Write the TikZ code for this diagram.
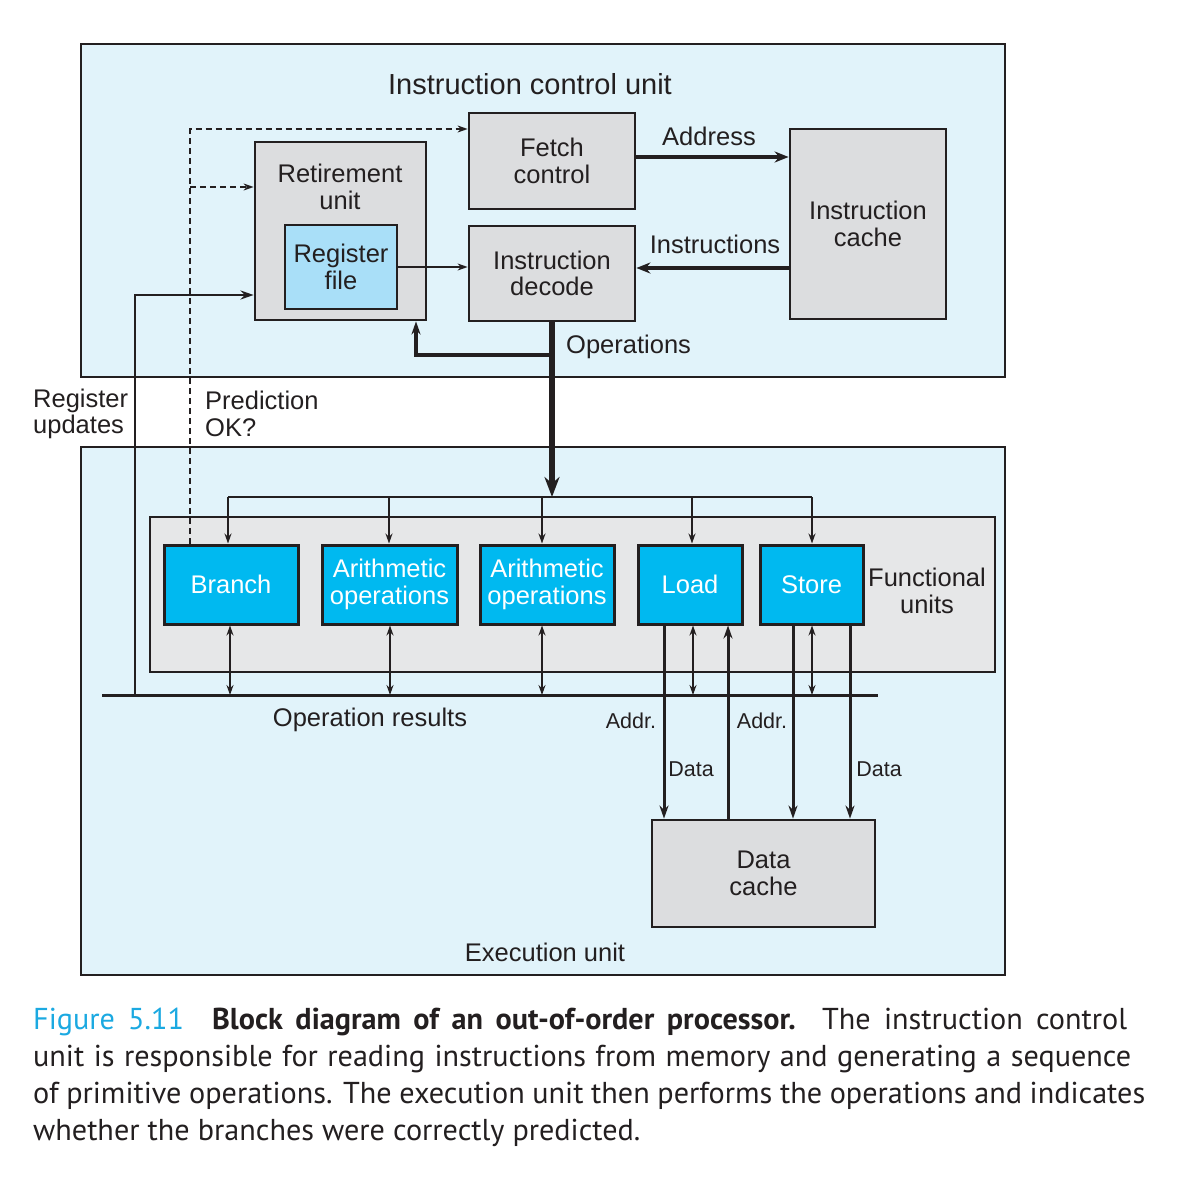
\documentclass[tikz,border=0pt]{standalone}
\usepackage{fontspec}
\setmainfont{Liberation Sans}
\newfontfamily\capfont{PT Sans}
\usetikzlibrary{arrows.meta}

\definecolor{panelblue}{HTML}{E1F3FA}
\definecolor{boxgray}{HTML}{DCDDDF}
\definecolor{fugray}{HTML}{E6E7E8}
\definecolor{regblue}{HTML}{A9DFF8}
\definecolor{unitcyan}{HTML}{00B9F0}
\definecolor{capcyan}{HTML}{1BA9E1}
\definecolor{ink}{HTML}{231F20}

\newcommand\lblsize{\fontsize{25.5}{26.5}\selectfont}
\newcommand\smallsize{\fontsize{21.5}{23}\selectfont}
\newcommand\titlesize{\fontsize{29}{30}\selectfont}
\newcommand\capline[2]{\makebox[#1pt][s]{#2}}

\tikzset{
  panel/.style={draw=ink, line width=2.8pt, fill=panelblue},
  fubox/.style={draw=ink, line width=2.8pt, fill=fugray},
  lbl/.style={font=\lblsize, text=ink, align=center, inner sep=0pt},
  smalllbl/.style={font=\smallsize, text=ink, inner sep=0pt},
  graybox/.style={draw=ink, line width=2.8pt, fill=boxgray, lbl},
  regbox/.style={draw=ink, line width=2.8pt, fill=regblue, lbl},
  unitbox/.style={draw=ink, line width=3pt, fill=unitcyan, lbl, text=white,
    minimum height=79pt},
  thinarrow/.style={draw=ink, line width=1.3pt, -{Stealth[length=10pt, width=7pt]}},
  dblarrow/.style={draw=ink, line width=1.3pt,
    {Stealth[length=10pt, width=7pt]}-{Stealth[length=10pt, width=7pt]}},
  bigarrow/.style={draw=ink, line width=3.5pt, -{Stealth[length=14pt, width=11pt]}},
  medarrow/.style={draw=ink, line width=2.6pt, -{Stealth[length=13pt, width=9pt]}},
  memarrow/.style={draw=ink, line width=3pt, -{Stealth[length=13pt, width=9pt]}},
  opsarrow/.style={draw=ink, line width=6pt, -{Stealth[length=20pt, width=15pt]}},
  predline/.style={draw=ink, line width=1.8pt, dash pattern=on 6pt off 4pt,
    -{Stealth[length=10pt, width=7pt]}},
  caption/.style={font=\capfont\fontsize{30.2}{37}\selectfont, text=ink,
    align=left, inner sep=0pt}
}

\begin{document}
\begin{tikzpicture}[x=1pt, y=-1pt]
\useasboundingbox (0,0) rectangle (1186,1188);

% the two units
\draw[panel] (81,44) rectangle (1005,377);
\draw[panel] (81,447) rectangle (1005,975);
\node[lbl, font=\titlesize] (icutitle) at (530,84) {Instruction control unit};
\node[lbl] (eutitle) at (545,952) {Execution unit};

% instruction control unit
\node[graybox, minimum width=171pt, minimum height=178pt] (retire) at (340.5,231) {};
\node[lbl] (retiretxt) at (340,187) {Retirement\\unit};
\node[regbox, minimum width=112pt, minimum height=84pt] (regfile) at (341,267) {Register\\file};
\node[graybox, minimum width=166pt, minimum height=96pt] (fetch) at (552,161) {Fetch\\control};
\node[graybox, minimum width=166pt, minimum height=95pt] (decode) at (552,273.5) {Instruction\\decode};
\node[graybox, minimum width=156pt, minimum height=190pt] (icache) at (868,224) {Instruction\\cache};

% functional units
\draw[fubox] (150,517) rectangle (995,672);
\node[lbl] (fulbl) at (927,591) {Functional\\units};
\node[unitbox, minimum width=134pt] (branch) at (231,584.5) {Branch};
\node[unitbox, minimum width=135pt] (aluA) at (389.5,584.5) {Arithmetic\\operations};
\node[unitbox, minimum width=134pt] (aluB) at (547,584.5) {Arithmetic\\operations};
\node[unitbox, minimum width=104pt] (load) at (690,584.5) {Load};
\node[unitbox, minimum width=103pt] (store) at (811.5,584.5) {Store};

\node[graybox, minimum width=223pt, minimum height=107pt] (dcache) at (763.5,873.5) {Data\\cache};

% fetch and decode
\draw[bigarrow] ([yshift=4pt]fetch.east) -- ([yshift=4pt]fetch.east -| icache.west);
\node[lbl] (addrlbl) at (709,136) {Address};
\draw[bigarrow] ([yshift=-44pt]icache.west) -- ([yshift=-44pt]icache.west -| decode.east);
\node[lbl] (instrlbl) at (715,244) {Instructions};
\draw[thinarrow] (regfile.east) -- (regfile.east -| decode.west);

% operations out of the decoder
\coordinate (opsfork) at (416,355);
\coordinate (opsend) at (552,497);
\draw[medarrow, line width=3.4pt] (decode.south |- opsfork) -- (opsfork) -- (opsfork |- retire.south);
\draw[opsarrow] (decode.south) -- (opsend);
\node[lbl, anchor=west] (opslbl) at (566,347) {Operations};

% issue to the units
\draw[draw=ink, line width=1.3pt] (228,497) -- (812,497);
\foreach \u/\x in {branch/228, aluA/389, aluB/542, load/692, store/812} {
  \coordinate (d) at (\x,497);
  \draw[thinarrow] (d) -- (d |- \u.north);
}

% operation results bus
\coordinate (busL) at (102,695);
\coordinate (busR) at (878,695);
\draw[draw=ink, line width=3pt] (busL) -- (busR);
\node[lbl] (reslbl) at (370,720) {Operation results};
\foreach \u/\x in {branch/230, aluA/390, aluB/542, load/693, store/812} {
  \coordinate (r) at (\x,695);
  \draw[dblarrow] (r |- \u.south) -- (r);
}

% register updates and prediction
\coordinate (regup) at (135,295);
\draw[medarrow] (regup |- busL) -- (regup) -- (regup -| retire.west);
\coordinate (predtop) at (190,129);
\coordinate (predmid) at (190,187);
\draw[predline] (branch.north -| predtop) -- (predtop) -- (predtop -| fetch.west);
\draw[predline] (predmid) -- (predmid -| retire.west);
\node[lbl, anchor=west, align=left] (reglbl) at (33,414) {Register\\updates};
\node[lbl, anchor=west, align=left] (predlbl) at (205,414) {Prediction\\OK?};

% load and store to the data cache
\coordinate (ldA) at ([xshift=-26pt]load.south);
\coordinate (ldD) at ([xshift=38pt]load.south);
\coordinate (stA) at ([xshift=-18.5pt]store.south);
\coordinate (stD) at ([xshift=38.5pt]store.south);
\draw[memarrow] (ldA) -- (ldA |- dcache.north);
\draw[memarrow] (ldD |- dcache.north) -- (ldD);
\draw[memarrow] (stA) -- (stA |- dcache.north);
\draw[memarrow] (stD) -- (stD |- dcache.north);
\node[smalllbl] (ldAlbl) at (631,721) {Addr.};
\node[smalllbl] (ldDlbl) at (691,769) {Data};
\node[smalllbl] (stAlbl) at (762,721) {Addr.};
\node[smalllbl] (stDlbl) at (879,769) {Data};

% caption
\node[caption, anchor=north west] (cap) at (33,1008) {%
  \capline{1094}{\textcolor{capcyan}{Figure 5.11}\hspace{28pt}\textbf{Block diagram of an out-of-order processor.} The instruction control}\\
  \capline{1098}{unit is responsible for reading instructions from memory and generating a sequence}\\
  \capline{1112}{of primitive operations. The execution unit then performs the operations and indicates}\\
  whether the branches were correctly predicted.};

\end{tikzpicture}
\end{document}
